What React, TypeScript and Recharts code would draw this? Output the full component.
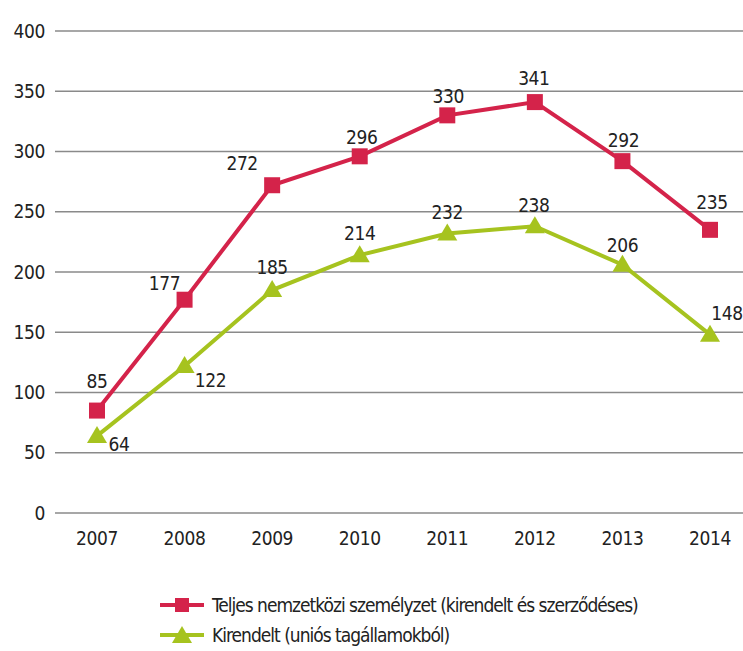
import { CartesianGrid, LabelList, Line, LineChart, XAxis, YAxis } from "recharts";

const years = ["2007", "2008", "2009", "2010", "2011", "2012", "2013", "2014"];
const teljes = [85, 177, 272, 296, 330, 341, 292, 235];
const kirendelt = [64, 122, 185, 214, 232, 238, 206, 148];
const yTicks = [0, 50, 100, 150, 200, 250, 300, 350, 400];

const RED = "#d4234a";
const GREEN = "#a6c31f";
const FONT = "'DejaVu Sans Condensed', 'DejaVu Sans', sans-serif";
const textStyle = { fontStretch: "condensed" as const, letterSpacing: -0.4 };

const data = years.map((year, i) => ({
  year,
  teljes: teljes[i],
  kirendelt: kirendelt[i],
}));

// label offsets from the point (dx, dy)
const redOffsets = [
  [0, -30], [-20, -17], [-30, -22], [2, -19], [1, -19], [-1, -24], [1, -21], [2, -28],
];
const greenOffsets = [
  [22, 8], [26, 14], [0, -23], [0, -22], [0, -21], [-1, -21], [0, -20], [17, -22],
];

const Square = (props: any) => {
  const { cx, cy, index } = props;
  return <rect key={`sq-${index}`} x={cx - 8} y={cy - 8} width={16} height={16} fill={RED} />;
};

const Triangle = (props: any) => {
  const { cx, cy, index } = props;
  return (
    <path
      key={`tr-${index}`}
      d={`M${cx},${cy - 10} L${cx + 10},${cy + 7} L${cx - 10},${cy + 7} Z`}
      fill={GREEN}
    />
  );
};

const makeLabel = (offsets: number[][]) => (props: any) => {
  const { x, y, value, index } = props;
  const [dx, dy] = offsets[index];
  return (
    <text
      x={x + dx}
      y={y + dy}
      textAnchor="middle"
      dominantBaseline="central"
      fontSize={19}
      fontFamily={FONT}
      style={textStyle}
      fill="#222"
    >
      {value}
    </text>
  );
};

const LegendItem = ({ color, label, triangle }: { color: string; label: string; triangle?: boolean }) => (
  <div style={{ display: "flex", alignItems: "center", height: 30 }}>
    <svg width={50} height={20}>
      <line x1={2} y1={10} x2={46} y2={10} stroke={color} strokeWidth={4} />
      {triangle ? (
        <path d="M24,1 L34,18 L14,18 Z" fill={color} />
      ) : (
        <rect x={17} y={3} width={14} height={14} fill={color} />
      )}
    </svg>
    <span
      style={{
        marginLeft: 4,
        fontSize: 19,
        fontFamily: FONT,
        fontStretch: "condensed",
        letterSpacing: -1,
        color: "#222",
      }}
    >
      {label}
    </span>
  </div>
);

export default function App() {
  return (
    <div style={{ position: "absolute", left: 0, top: 0, width: 743, height: 651, background: "#fff" }}>
      <LineChart
        width={743}
        height={651}
        data={data}
        margin={{ top: 31, right: 0, left: 0, bottom: 108 }}
      >
        <CartesianGrid vertical={false} stroke="#8a8a8a" strokeWidth={1.5} />
        <XAxis
          dataKey="year"
          scale="point"
          padding={{ left: 42, right: 33 }}
          axisLine={false}
          tickLine={false}
          tickSize={0}
          tickMargin={19}
          tick={{ fontSize: 19, fontFamily: FONT, fill: "#222", style: textStyle }}
        />
        <YAxis
          domain={[0, 400]}
          ticks={yTicks}
          width={55}
          axisLine={false}
          tickLine={false}
          tickSize={0}
          tickMargin={10}
          tick={{ fontSize: 19, fontFamily: FONT, fill: "#222", style: textStyle }}
        />
        <Line
          dataKey="teljes"
          stroke={RED}
          strokeWidth={4}
          dot={Square}
          activeDot={false}
          isAnimationActive={false}
        >
          <LabelList dataKey="teljes" content={makeLabel(redOffsets)} />
        </Line>
        <Line
          dataKey="kirendelt"
          stroke={GREEN}
          strokeWidth={4}
          dot={Triangle}
          activeDot={false}
          isAnimationActive={false}
        >
          <LabelList dataKey="kirendelt" content={makeLabel(greenOffsets)} />
        </Line>
      </LineChart>
      <div style={{ position: "absolute", left: 158, top: 590 }}>
        <LegendItem color={RED} label="Teljes nemzetközi személyzet (kirendelt és szerződéses)" />
        <LegendItem color={GREEN} label="Kirendelt (uniós tagállamokból)" triangle />
      </div>
    </div>
  );
}
